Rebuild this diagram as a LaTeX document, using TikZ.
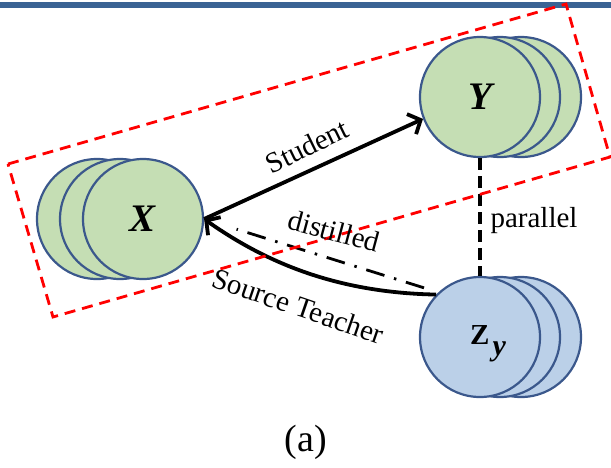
\documentclass[tikz,border=0pt]{standalone}
\usepackage{fontspec}
\setmainfont{Liberation Serif}
\usetikzlibrary{arrows.meta}
\definecolor{greenfill}{RGB}{197,222,180}
\definecolor{bluefill}{RGB}{187,208,232}
\definecolor{rimblue}{RGB}{59,88,140}
\definecolor{barblue}{RGB}{58,99,148}

\begin{document}
\begin{tikzpicture}[x=1pt,y=-1pt,
    layer/.style={circle,draw=rimblue,line width=2.2pt,minimum size=120pt,inner sep=0pt},
    xlayer/.style={layer,fill=greenfill},
    zlayer/.style={layer,fill=bluefill},
    lbl/.style={font=\fontsize{29}{31}\selectfont,inner sep=0pt},
    var/.style={font=\fontsize{39}{40}\selectfont\bfseries\itshape,inner sep=0pt},
    arr/.style={line width=3.8pt,-{Straight Barb[length=10pt,width=22pt]}}]
            \useasboundingbox (0,0) rectangle (611,467);
            \fill[barblue] (0,2) rectangle (611,7.5);
            % input stack X
            \node[xlayer] (X3) at (97,219) {};
            \node[xlayer] (X2) at (120,219) {};
            \node[xlayer] (X) at (143,219) {};
            \node[var] at (X) {X};
            % output stack Y
            \node[xlayer] (Y3) at (521,97) {};
            \node[xlayer] (Y2) at (500,97) {};
            \node[xlayer] (Y) at (480,97) {};
            \node[var] at (Y) {Y};
            % stack Z
            \node[zlayer] (Z3) at (521,337) {};
            \node[zlayer] (Z2) at (500,337) {};
            \node[zlayer] (Z) at (480,337) {};
            \node[font=\fontsize{29}{30}\selectfont\bfseries,inner sep=0pt,anchor=base west]
                at (470,344) {Z\hspace{3pt}\raisebox{-11pt}{\fontsize{30}{30}\selectfont\itshape y}};
            % connectors
            \draw[arr] (X.east) -- (Y.201);
            \draw[line width=2.8pt,dash pattern=on 19pt off 10pt on 2.5pt off 10pt,
                shorten <=15pt,shorten >=34pt] (Z.133) -- (X.east);
            \draw[arr] (Z.136) .. controls +(-105,-2) and +(57,40) .. (X.east);
            \draw[line width=3.6pt,dash pattern=on 12pt off 6pt] (Y.south) -- (Z.north);
            % red frame
            \coordinate (R1) at (8,164);
            \coordinate (R2) at (566,4);
            \coordinate (R3) at (610,157);
            \coordinate (R4) at (53,317);
            \draw[red,line width=2.8pt,dash pattern=on 11pt off 7pt] (R1) -- (R2) -- (R3) -- (R4) -- cycle;
            % labels
            \node[lbl,rotate=26] at (307,146) {Student};
            \node[lbl,rotate=-15] at (334,231) {distilled};
            \node[lbl,rotate=-19] at (298,306) {Source Teacher};
            \node[lbl] at (534,221) {parallel};
            \node[font=\fontsize{38}{40}\selectfont] at (306,442) {(a)};
        \end{tikzpicture}
\end{document}
